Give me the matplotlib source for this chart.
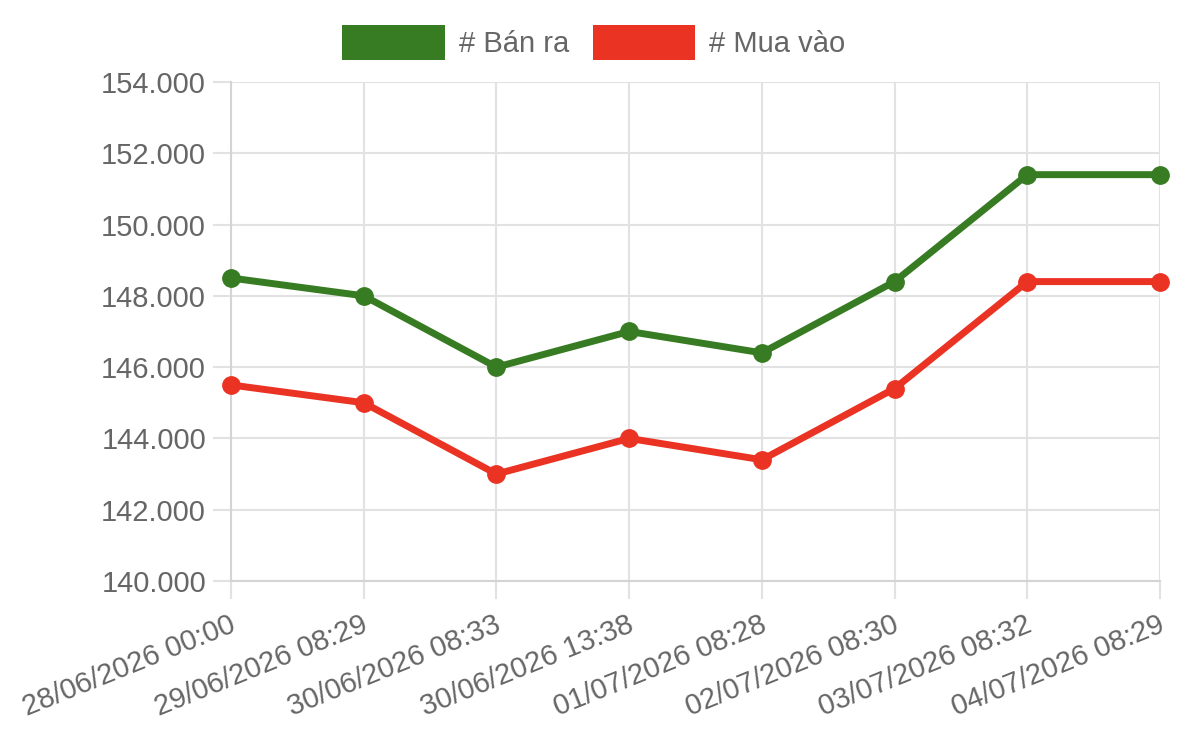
import matplotlib.pyplot as plt
import matplotlib.transforms as mtransforms
from matplotlib.patches import Patch
from matplotlib.ticker import FuncFormatter

# du lieu gia vang
labels = ['28/06/2026 00:00', '29/06/2026 08:29', '30/06/2026 08:33', '30/06/2026 13:38',
          '01/07/2026 08:28', '02/07/2026 08:30', '03/07/2026 08:32', '04/07/2026 08:29']
ban_ra = [148500, 148000, 146000, 147000, 146400, 148400, 151400, 151400]
mua_vao = [145500, 145000, 143000, 144000, 143400, 145400, 148400, 148400]

green = '#377c22'
red = '#eb3324'
txt = '#666666'
grid = '#e2e2e2'

plt.rcParams['font.family'] = ['Liberation Sans', 'DejaVu Sans']

fig = plt.figure(figsize=(12, 7.48), dpi=100)
ax = fig.add_axes([0.1925, 0.2233, 0.7742, 0.6671])

x = list(range(len(labels)))
ax.plot(x, ban_ra, color=green, lw=5, marker='o', ms=12.5, zorder=3, clip_on=False)
ax.plot(x, mua_vao, color=red, lw=5, marker='o', ms=12.5, zorder=3, clip_on=False)

ax.set_xlim(0, len(labels) - 1)
ax.set_ylim(140000, 154000)
ax.set_yticks(range(140000, 154001, 2000))
ax.yaxis.set_major_formatter(FuncFormatter(lambda v, p: f'{int(v):,}'.replace(',', '.')))
ax.set_xticks(x)
ax.set_xticklabels(labels, rotation=22, ha='right', va='center', rotation_mode='anchor')

ax.grid(True, color=grid, lw=1.5, zorder=0)
for s in ['top', 'right']:
    ax.spines[s].set_visible(False)
for s in ['left', 'bottom']:
    ax.spines[s].set_color('#d4d4d4')
    ax.spines[s].set_linewidth(1.5)
ax.tick_params(axis='both', length=13, width=1.5, color=grid, labelcolor=txt)
ax.tick_params(axis='y', pad=5, labelsize=21)
ax.tick_params(axis='x', pad=18, labelsize=21)

# dich nhan truc x sang phai mot chut
shift = mtransforms.ScaledTranslation(3 / 100, 0, fig.dpi_scale_trans)
for lbl in ax.get_xticklabels():
    lbl.set_transform(lbl.get_transform() + shift)

handles = [Patch(facecolor=green, label='# Bán ra'), Patch(facecolor=red, label='# Mua vào')]
leg = fig.legend(handles=handles, loc='center', bbox_to_anchor=(0.495, 0.943), ncol=2,
                 frameon=False, fontsize=21, handlelength=3.5, handleheight=1.5,
                 handletextpad=0.5, columnspacing=0.8)
for t in leg.get_texts():
    t.set_color(txt)

fig.savefig('out.png', dpi=100)
